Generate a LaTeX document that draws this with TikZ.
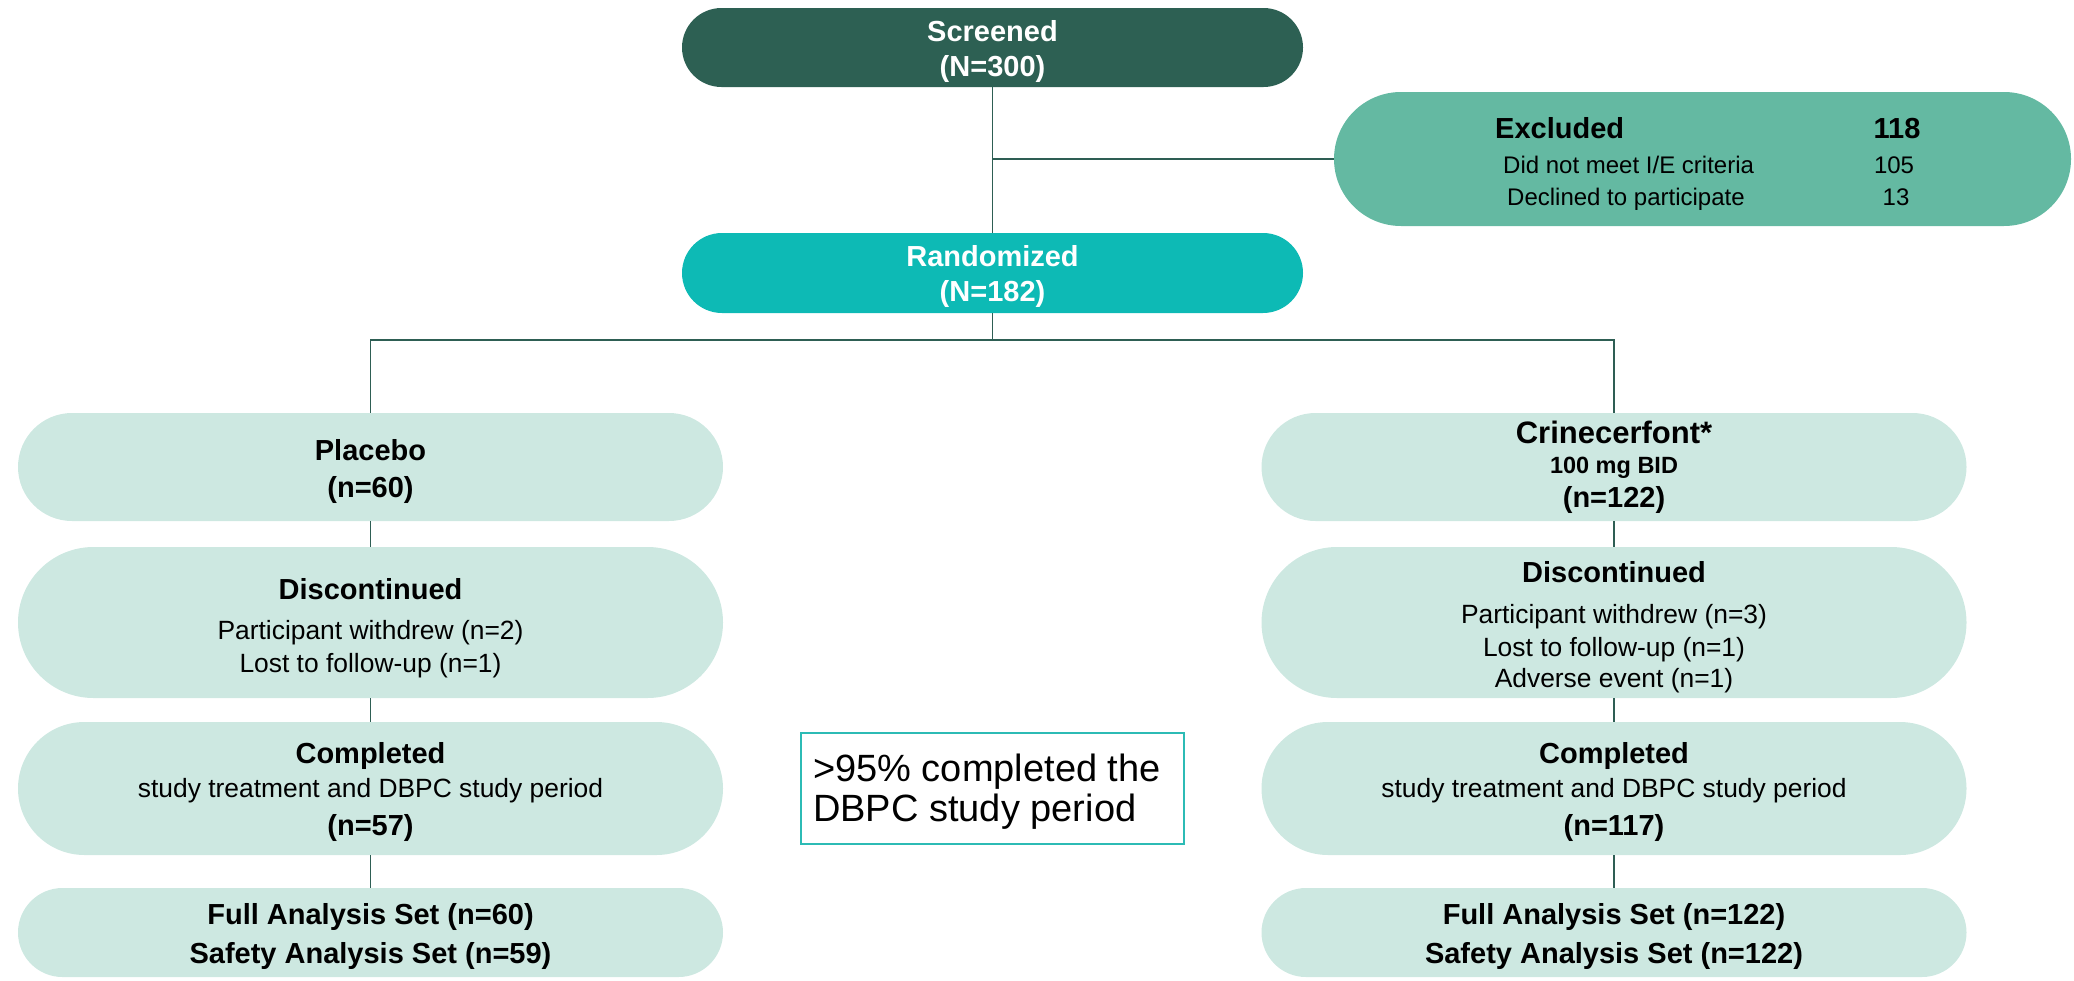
\documentclass[tikz,border=0pt]{standalone}
\usepackage{fontspec}
\setmainfont{Liberation Sans}
\usetikzlibrary{shapes.misc}

\definecolor{screengreen}{HTML}{2D6053}
\definecolor{randteal}{HTML}{0DBAB5}
\definecolor{exclgreen}{HTML}{64B9A2}
\definecolor{palemint}{HTML}{CDE8E1}
\definecolor{linkgreen}{HTML}{2E5E54}
\definecolor{noteteal}{HTML}{2CBBB5}

\begin{document}
\begin{tikzpicture}[x=1pt,y=-1pt,
  pill/.style={rounded rectangle, inner sep=0pt, draw=none},
  armbox/.style={pill, fill=palemint, minimum width=705pt},
  conn/.style={draw=linkgreen, line width=1.3pt},
  txt/.style={anchor=base, inner sep=0pt},
  head/.style={txt, font=\fontsize{29}{35}\selectfont\bfseries},
  body/.style={txt, font=\fontsize{26.4}{32}\selectfont},
  small/.style={anchor=base west, inner sep=0pt, font=\fontsize{24}{28}\selectfont},
  notetext/.style={anchor=base west, inner sep=0pt, font=\fontsize{38}{40}\selectfont}]

\useasboundingbox (0,0) rectangle (2074,980);

% ---------- enrolment ----------
\node[pill, fill=screengreen, minimum width=621pt, minimum height=79pt] (scr) at (992.5,47.5) {};
\node[head, text=white] (scrA) at (992.5,41) {Screened};
\node[head, text=white] (scrB) at (992.5,76) {(N=300)};

\node[pill, fill=exclgreen, minimum width=737pt, minimum height=134pt] (exc) at (1702.5,159) {};
\node[anchor=base west, inner sep=0pt, font=\fontsize{29}{35}\selectfont\bfseries] (excA) at (1495,138) {Excluded};
\node[head] (excAn) at (1897,138) {118};
\node[small] (excB) at (1503,173) {Did not meet I/E criteria};
\node[txt, font=\fontsize{24}{28}\selectfont] (excBn) at (1894,173) {105};
\node[small] (excC) at (1507,205) {Declined to participate};
\node[txt, font=\fontsize{24}{28}\selectfont] (excCn) at (1896,205) {13};

\node[pill, fill=randteal, minimum width=621pt, minimum height=80pt] (rnd) at (992.5,273) {};
\node[head, text=white] (rndA) at (992.5,266) {Randomized};
\node[head, text=white] (rndB) at (992.5,301) {(N=182)};

% ---------- placebo arm ----------
\node[armbox, minimum height=108pt] (plc) at (370.5,467) {};
\node[head] (plcA) at (370.5,460) {Placebo};
\node[head] (plcB) at (370.5,497) {(n=60)};

\node[armbox, minimum height=151pt] (dl) at (370.5,622.5) {};
\node[head] (dlA) at (370.5,599) {Discontinued};
\node[body] (dlB) at (370.5,639) {Participant withdrew (n=2)};
\node[body] (dlC) at (370.5,672) {Lost to follow-up (n=1)};

\node[armbox, minimum height=133pt] (cl) at (370.5,788.5) {};
\node[head] (clA) at (370.5,763) {Completed};
\node[body] (clB) at (370.5,797) {study treatment and DBPC study period};
\node[head] (clC) at (370.5,835) {(n=57)};

\node[armbox, minimum height=89pt] (fl) at (370.5,932.5) {};
\node[head] (flA) at (370.5,924) {Full Analysis Set (n=60)};
\node[head] (flB) at (370.5,963) {Safety Analysis Set (n=59)};

% ---------- crinecerfont arm ----------
\node[armbox, minimum height=108pt] (cri) at (1614,467) {};
\node[txt, font=\fontsize{31}{36}\selectfont\bfseries] (criA) at (1614,443) {Crinecerfont*};
\node[txt, font=\fontsize{23.5}{28}\selectfont\bfseries] (criB) at (1614,473) {100 mg BID};
\node[head] (criC) at (1614,507) {(n=122)};

\node[armbox, minimum height=151pt] (dr) at (1614,622.5) {};
\node[head] (drA) at (1614,582) {Discontinued};
\node[body] (drB) at (1614,623) {Participant withdrew (n=3)};
\node[body] (drC) at (1614,656) {Lost to follow-up (n=1)};
\node[body] (drD) at (1614,687) {Adverse event (n=1)};

\node[armbox, minimum height=133pt] (cr) at (1614,788.5) {};
\node[head] (crA) at (1614,763) {Completed};
\node[body] (crB) at (1614,797) {study treatment and DBPC study period};
\node[head] (crC) at (1614,835) {(n=117)};

\node[armbox, minimum height=89pt] (fr) at (1614,932.5) {};
\node[head] (frA) at (1614,924) {Full Analysis Set (n=122)};
\node[head] (frB) at (1614,963) {Safety Analysis Set (n=122)};

% ---------- completion note ----------
\node[draw=noteteal, line width=2pt, fill=white, minimum width=383pt, minimum height=111pt, inner sep=0pt] (note) at (992.5,788.5) {};
\node[notetext] (noteA) at (813,781) {>95\% completed the};
\node[notetext] (noteB) at (813,821) {DBPC study period};

% ---------- connectors ----------
\coordinate (excJoin) at (scr.south |- exc.west);
\coordinate (split) at (992.5,340);
\draw[conn] (scr.south) -- (rnd.north);
\draw[conn] (excJoin) -- (exc.west);
\draw[conn] (rnd.south) -- (split);
\draw[conn] (plc.north) |- (split) -| (cri.north);
\draw[conn] (plc.south) -- (dl.north);
\draw[conn] (dl.south) -- (cl.north);
\draw[conn] (cl.south) -- (fl.north);
\draw[conn] (cri.south) -- (dr.north);
\draw[conn] (dr.south) -- (cr.north);
\draw[conn] (cr.south) -- (fr.north);
\end{tikzpicture}
\end{document}
